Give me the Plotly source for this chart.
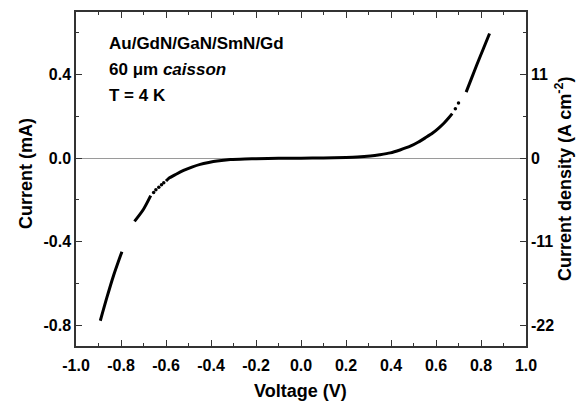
import plotly.graph_objects as go

# --- data (Voltage in V, Current in mA) ---
seg1_v = [-0.892, -0.862, -0.833, -0.796]
seg1_i = [-0.779, -0.665, -0.562, -0.448]

seg2_v = [-0.740, -0.700, -0.668]
seg2_i = [-0.303, -0.245, -0.180]

sparse_neg_v = [-0.655, -0.645, -0.632, -0.620, -0.610]
sparse_neg_i = [-0.165, -0.152, -0.140, -0.128, -0.118]

seg3_v = [-0.600, -0.588, -0.555, -0.522, -0.485, -0.448, -0.410, -0.373, -0.314,
          -0.250, -0.200, -0.100, 0.000, 0.100, 0.200, 0.250, 0.308, 0.350, 0.397,
          0.440, 0.486, 0.520, 0.552, 0.585, 0.612, 0.635, 0.656, 0.672]
seg3_i = [-0.110, -0.097, -0.077, -0.059, -0.043, -0.030, -0.021, -0.014, -0.007,
          -0.004, -0.003, -0.001, 0.000, 0.001, 0.003, 0.005, 0.010, 0.016, 0.025,
          0.039, 0.057, 0.076, 0.097, 0.120, 0.144, 0.167, 0.192, 0.213]

sparse_pos_v = [0.686, 0.700]
sparse_pos_i = [0.237, 0.264]

seg4_v = [0.734, 0.760, 0.781, 0.810, 0.838]
seg4_i = [0.316, 0.388, 0.446, 0.523, 0.597]

x_tickvals = [-1.0, -0.8, -0.6, -0.4, -0.2, 0.0, 0.2, 0.4, 0.6, 0.8, 1.0]
x_ticktext = ["-1.0", "-0.8", "-0.6", "-0.4", "-0.2", "0.0", "0.2", "0.4", "0.6", "0.8", "1.0"]
y_tickvals = [-0.8, -0.4, 0.0, 0.4]
y_ticktext = ["-0.8", "-0.4", "0.0", "0.4"]
y2_tickvals = [-22, -11, 0, 11]
y2_ticktext = ["-22", "-11", "0", "11"]

x_range = [-1.0, 1.0]
y_range = [-0.9, 0.7]
j_factor = 27.5  # A cm^-2 per mA
y2_range = [y_range[0] * j_factor, y_range[1] * j_factor]

FONT = "Liberation Sans"
W, H = 587, 405
ML, MR, MT, MB = 76, 61, 10, 59
PW, PH = W - ML - MR, H - MT - MB


def px(x):
    return (x - ML) / PW


def py(y):
    return (H - MB - y) / PH


fig = go.Figure()
for vv, ii in [(seg1_v, seg1_i), (seg2_v, seg2_i), (seg3_v, seg3_i), (seg4_v, seg4_i)]:
    fig.add_trace(go.Scatter(x=vv, y=ii, mode="lines",
                             line=dict(color="black", width=3, shape="spline", smoothing=0.8),
                             showlegend=False, hoverinfo="skip"))
for vv, ii in [(sparse_neg_v, sparse_neg_i), (sparse_pos_v, sparse_pos_i)]:
    fig.add_trace(go.Scatter(x=vv, y=ii, mode="markers", marker=dict(color="black", size=3.5),
                             showlegend=False, hoverinfo="skip"))
fig.add_trace(go.Scatter(x=[0], y=[0], yaxis="y2", mode="markers", marker=dict(opacity=0),
                         showlegend=False, hoverinfo="skip"))

axcol = "#333333"
tickfont = dict(family=FONT, size=16, color="black", weight="bold")

fig.update_layout(
    width=W, height=H,
    margin=dict(l=ML, r=MR, t=MT, b=MB),
    paper_bgcolor="white", plot_bgcolor="white",
    xaxis=dict(range=x_range, tickmode="array", tickvals=x_tickvals, ticktext=x_ticktext,
               ticks="inside", ticklen=6, tickwidth=1.2, tickcolor=axcol, ticklabelstandoff=4,
               minor=dict(tickmode="linear", tick0=-1.0, dtick=0.1, ticks="inside", ticklen=3.5,
                          tickwidth=1.2, tickcolor=axcol),
               showline=True, linecolor=axcol, linewidth=1.5, mirror="ticks",
               showgrid=False, zeroline=False, tickfont=tickfont),
    yaxis=dict(range=y_range, tickmode="array", tickvals=y_tickvals, ticktext=y_ticktext,
               ticks="inside", ticklen=6, tickwidth=1.2, tickcolor=axcol,
               minor=dict(tickmode="linear", tick0=0, dtick=0.2, ticks="inside", ticklen=3.5,
                          tickwidth=1.2, tickcolor=axcol),
               showline=True, linecolor=axcol, linewidth=1.5, mirror=True,
               showgrid=False, zeroline=True, zerolinecolor="#9a9a9a", zerolinewidth=1,
               tickfont=tickfont),
    yaxis2=dict(range=y2_range, overlaying="y", side="right", tickmode="array",
                tickvals=y2_tickvals, ticktext=y2_ticktext,
                ticks="inside", ticklen=6, tickwidth=1.2, tickcolor=axcol,
                minor=dict(tickmode="linear", tick0=0, dtick=5.5, ticks="inside", ticklen=3.5,
                           tickwidth=1.2, tickcolor=axcol),
                showline=True, linecolor=axcol, linewidth=1.5,
                showgrid=False, zeroline=False, tickfont=tickfont),
)

title_font = dict(family=FONT, size=18, color="black", weight="bold")
ann_font = dict(family=FONT, size=17, color="black", weight="bold")

annotations = [
    dict(text="Voltage (V)", x=px(300.7), y=py(391), xanchor="center", yanchor="middle", font=title_font),
    dict(text="Current (mA)", x=px(26), y=py(173), xanchor="center", yanchor="middle",
         textangle=-90, font=title_font),
    dict(text="Current density (A cm<sup>-2</sup>)", x=px(563), y=py(178), xanchor="center",
         yanchor="middle", textangle=-90, font=title_font),
    dict(text="Au/GdN/GaN/SmN/Gd", x=px(107), y=py(42), xanchor="left", yanchor="middle", font=ann_font),
    dict(text="60 μm <i>caisson</i>", x=px(107), y=py(68), xanchor="left", yanchor="middle", font=ann_font),
    dict(text="T = 4 K", x=px(107), y=py(94), xanchor="left", yanchor="middle", font=ann_font),
]
for a in annotations:
    a.update(xref="paper", yref="paper", showarrow=False)
fig.update_layout(annotations=annotations)

fig.write_html("out.html")
